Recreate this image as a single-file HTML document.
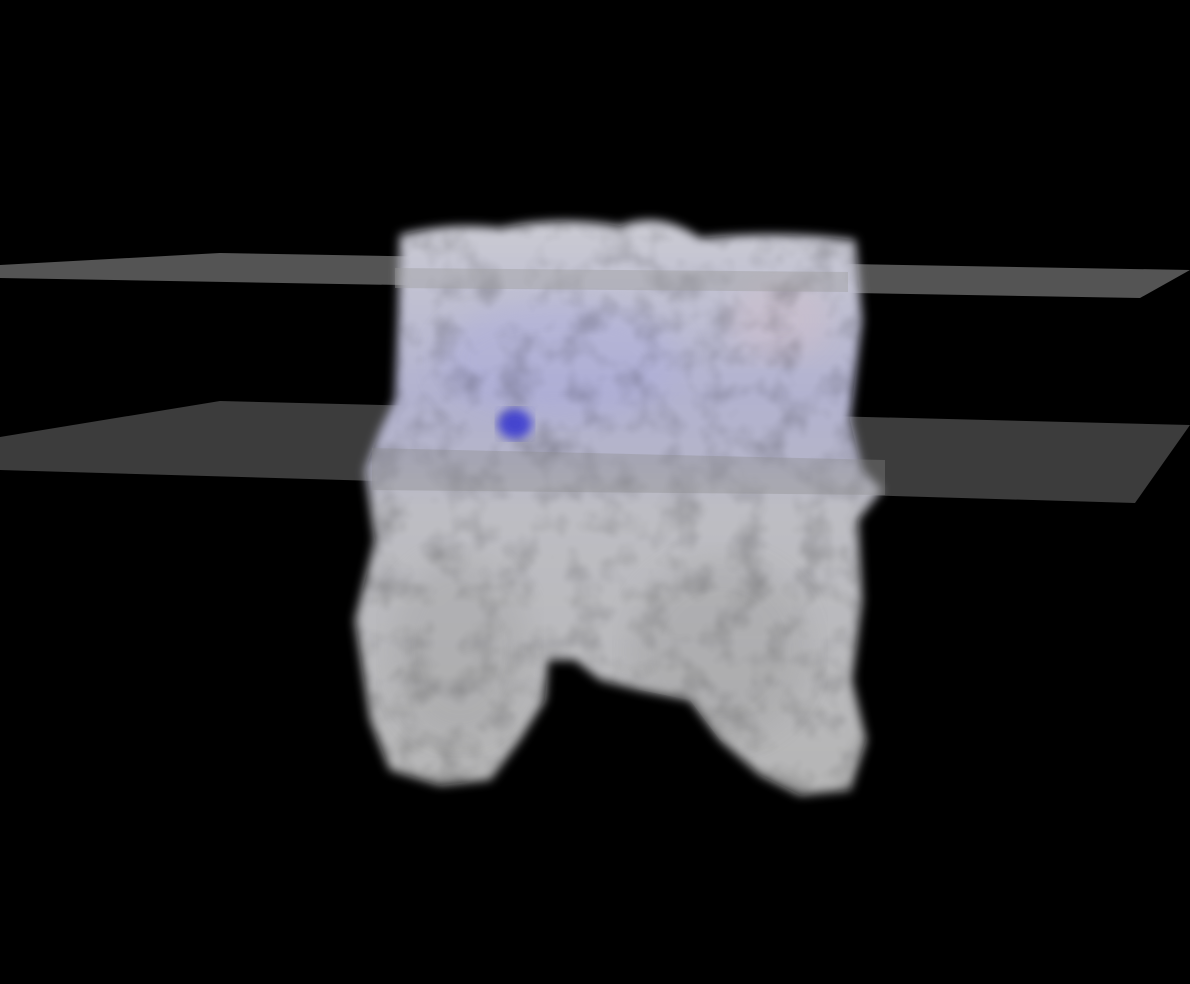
<!DOCTYPE html>
<html>
<head>
<meta charset="utf-8">
<style>
html,body{margin:0;padding:0;background:#000;}
svg{display:block;}
</style>
</head>
<body>
<svg width="1190" height="984" viewBox="0 0 1190 984" xmlns="http://www.w3.org/2000/svg">
<defs>
<filter id="blur" x="-10%" y="-10%" width="120%" height="120%"><feGaussianBlur stdDeviation="5"/></filter>
<filter id="blur2"><feGaussianBlur stdDeviation="14"/></filter>
<filter id="tex" x="0" y="0" width="100%" height="100%">
<feTurbulence type="fractalNoise" baseFrequency="0.03" numOctaves="3" seed="4"/>
<feColorMatrix type="matrix" values="0 0 0 0 0  0 0 0 0 0  0 0 0 0 0  0 0 0 -2 1.1"/>
<feGaussianBlur stdDeviation="2"/>
</filter>
<linearGradient id="body" x1="0" y1="0" x2="0" y2="1">
<stop offset="0" stop-color="#cbcbd3"/>
<stop offset="0.3" stop-color="#b2b2cf"/>
<stop offset="0.42" stop-color="#b4b4c9"/>
<stop offset="0.5" stop-color="#bdbdc3"/>
<stop offset="1" stop-color="#b5b5b5"/>
</linearGradient>
<clipPath id="shape"><path id="shp" d="M400,235 Q450,222 500,228 Q560,215 620,226 Q660,210 700,238 Q780,230 855,240 L862,320 L850,420 L862,470 L882,490 L858,520 L862,600 L852,680 L866,740 L850,790 L800,795 L760,775 L720,740 L690,700 L640,690 L600,680 L575,660 L548,660 L545,700 L520,740 L490,780 L440,785 L390,770 L370,720 L355,620 L375,540 L365,470 L380,430 L395,400 L398,320 Z"/></clipPath>
</defs>
<rect width="1190" height="984" fill="#000"/>
<polygon points="0,265 220,253 1190,270 1140,298 0,278" fill="#545454"/>
<polygon points="0,437 220,401 1190,425 1135,503 0,470" fill="#3c3c3c"/>
<g>
<use href="#shp" filter="url(#blur)" fill="url(#body)"/>
<g clip-path="url(#shape)">
<ellipse cx="460" cy="650" rx="70" ry="90" fill="#9a9a9a" opacity="0.3" filter="url(#blur2)"/>
<ellipse cx="720" cy="650" rx="90" ry="90" fill="#959595" opacity="0.3" filter="url(#blur2)"/>
<ellipse cx="560" cy="360" rx="120" ry="60" fill="#a8a8e0" opacity="0.35" filter="url(#blur2)"/>
<ellipse cx="780" cy="320" rx="50" ry="40" fill="#d8c0c8" opacity="0.35" filter="url(#blur2)"/>
<rect x="340" y="200" width="560" height="610" filter="url(#tex)" opacity="0.22"/>
</g>
<ellipse cx="515" cy="424" rx="17" ry="15" fill="#3a3ad0" filter="url(#blur)" opacity="0.9"/>
</g>
<polygon points="395,268 848,272 848,292 395,288" fill="#9a9a9a" opacity="0.4"/>
<polygon points="372,448 885,460 885,495 372,490" fill="#8a8a8a" opacity="0.35"/>
</svg>
</body>
</html>
